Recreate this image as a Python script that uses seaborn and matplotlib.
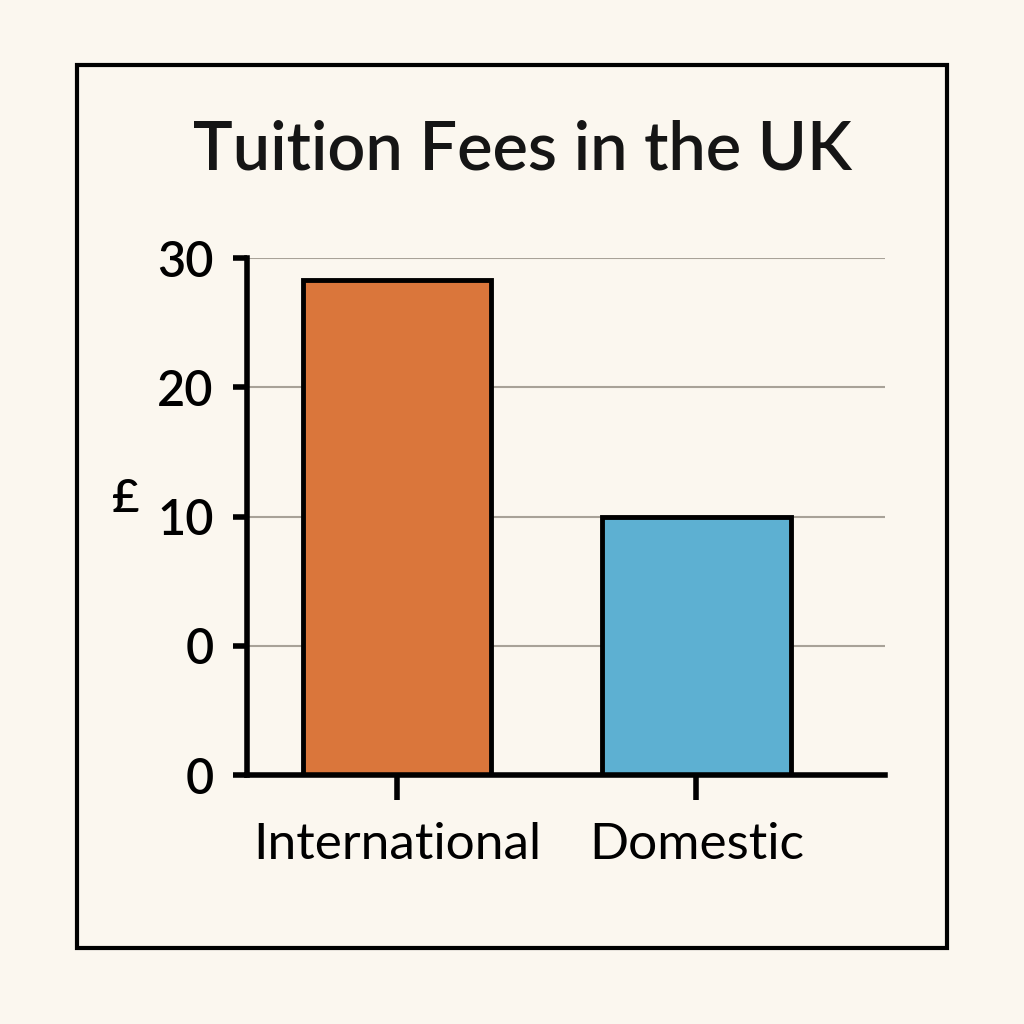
import numpy as np
import seaborn as sns
import matplotlib.pyplot as plt
from matplotlib.patches import Rectangle

# Data
categories = ["International", "Domestic"]
fees = [28.3, 10.0]
ytick_values = [-10, 0, 10, 20, 30]
ytick_labels = ["0", "0", "10", "20", "30"]
bar_colors = ["#DA763B", "#5DB0D2"]

baseline = -10  # the drawn axis starts one step below the "0" line

sns.set_theme(style="white")
plt.rcParams['font.family'] = ['Lato', 'DejaVu Sans']
bg = "#FBF7EF"

f = plt.figure(figsize=(10.24, 10.24), dpi=100, facecolor=bg)
ax = f.add_axes([0.241, 0.243, 0.623, 0.505])
ax.set_facecolor(bg)

heights = np.array(fees) - baseline
sns.barplot(x=categories, y=heights, hue=categories, palette=bar_colors,
            saturation=1, width=0.63, bottom=baseline, edgecolor="black",
            linewidth=3.5, legend=False, ax=ax, zorder=3)

ax.set_xlim(-0.503, 1.63)
ax.set_ylim(baseline, 30)
ax.set_yticks(ytick_values)
ax.set_yticklabels(ytick_labels, fontweight="semibold")

# light grid lines
for v in ytick_values[1:]:
    ax.axhline(v, color="#A8A298", linewidth=1.5, zorder=1)

sns.despine(ax=ax)
for s in ["left", "bottom"]:
    ax.spines[s].set_linewidth(4)
    ax.spines[s].set_color("black")
    ax.spines[s].set_zorder(4)

ax.tick_params(axis="y", length=10, width=4, pad=14, labelsize=35, colors="black", left=True)
ax.tick_params(axis="x", length=18, width=4, pad=16, labelsize=37, colors="black", bottom=True)
ax.set_xlabel("")
ax.set_ylabel("£", rotation=0, fontsize=34, fontweight="semibold", color="black",
              va="center", ha="center")
ax.yaxis.set_label_coords(-0.19, 0.535)

f.text(0.51, 1 - 150 / 1024, "Tuition Fees in the UK", ha="center", va="center",
       fontsize=48, fontweight="semibold", color="#151515")

# outer frame
f.patches.append(Rectangle((77 / 1024, 1 - 948 / 1024), 870 / 1024, 883 / 1024,
                           transform=f.transFigure, fill=False, edgecolor="black",
                           linewidth=3))

f.savefig("out.png", dpi=100, facecolor=bg)
